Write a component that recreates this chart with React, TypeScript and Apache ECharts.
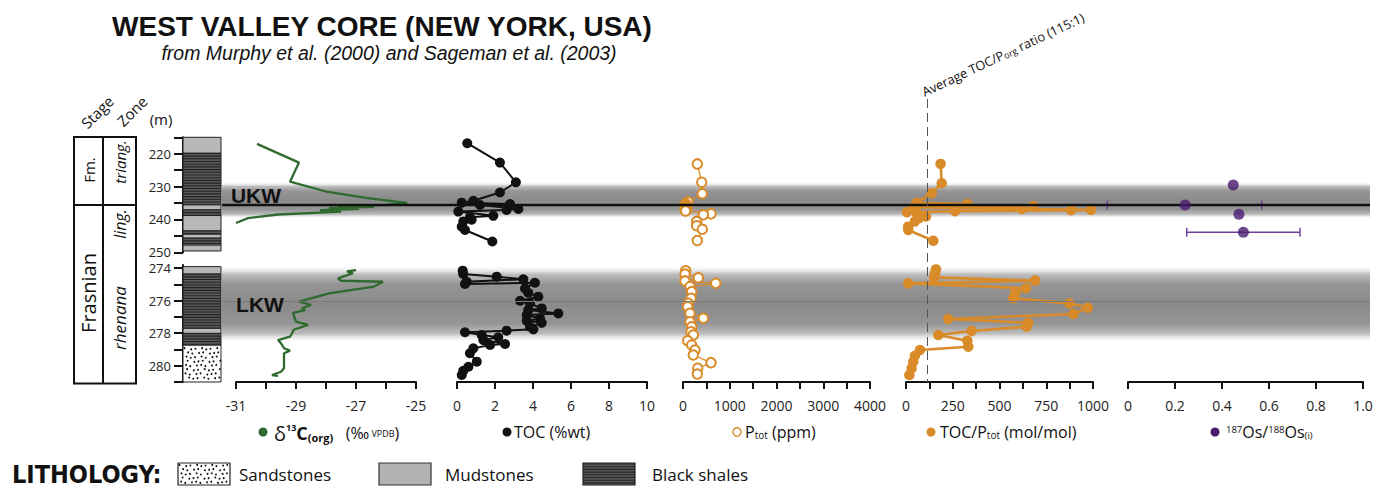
import React, { useEffect, useRef } from 'react';
import * as echarts from 'echarts';

// ---------- DATA ----------
// depth ranges of the two displayed core segments (m)
const depthUpper = [215, 250];
const depthLower = [273.8, 281];
const depthTicksUpper = [215, 220, 225, 230, 235, 240, 245, 250];
const depthLabelsUpper = [220, 230, 240, 250];
const depthTicksLower = [274, 275, 276, 277, 278, 279, 280, 281];
const depthLabelsLower = [274, 276, 278, 280];

// lithology intervals [top, bottom, kind] kind: 0 mudstone, 1 black shale, 2 sandstone
const lithoUpper = [
  [215, 219.6, 0], [219.6, 235.8, 1], [235.8, 236.8, 0], [236.8, 239.1, 1], [239.1, 243.2, 0],
  [243.2, 244.7, 1], [244.7, 245.4, 0], [245.4, 248.2, 1], [248.2, 249.6, 0],
];
const lithoLower = [
  [273.9, 274.3, 0], [274.3, 277.75, 1], [277.75, 277.95, 0], [277.95, 278.8, 1], [278.8, 281, 2],
];

// shaded intervals (UKW, LKW) [top, bottom]
const bandUpper = [[228.6, 239.8]];
const bandLower = [[273.8, 278.6]];
const ffBoundary = 235.6;      // black line
const lkwMidLine = 276.05;     // thin line in LKW
const avgRatio = 115;          // average TOC/Porg ratio

// [depth, value]
const d13cUpper = [
  [217.0, -30.3], [222.7, -28.9], [228.5, -29.2], [231.5, -28.0], [233.5, -26.6], [235.0, -25.3],
  [235.6, -26.0], [235.9, -27.6], [236.2, -26.4], [236.5, -27.9], [236.8, -26.9], [237.2, -28.2],
  [237.6, -27.5], [238.5, -29.6], [239.6, -30.6], [241.1, -31.0],
];
const d13cLower = [
  [274.11, -27.0], [274.2, -27.3], [274.3, -27.1], [274.62, -27.6], [274.77, -27.5], [274.83, -26.1],
  [275.13, -26.4], [275.54, -27.9], [275.85, -28.5], [276.06, -28.9], [276.26, -28.5], [276.47, -28.8],
  [276.57, -28.7], [276.74, -29.1], [277.29, -29.0], [277.49, -28.6], [277.8, -29.1], [277.9, -29.1],
  [278.21, -29.2], [278.42, -29.6], [278.62, -29.5], [278.92, -29.4], [279.07, -29.2], [279.23, -29.4],
  [280.16, -29.4], [280.37, -29.5], [280.57, -29.8], [280.63, -29.6],
];
const tocUpper = [
  [216.8, 0.54], [222.7, 2.26], [228.7, 3.1], [231.8, 2.26], [234.3, 0.86], [234.9, 0.25],
  [235.3, 2.79], [235.6, 1.21], [236.8, 3.23], [237.1, 2.61], [237.6, 0.07], [238.9, 1.91],
  [239.3, 0.68], [240.1, 0.77], [240.6, 0.33], [242.2, 0.25], [243.2, 0.42], [246.7, 1.86],
];
const tocLower = [
  [274.15, 0.3], [274.35, 0.33], [274.52, 2.09], [274.68, 3.49], [274.83, 0.51], [274.97, 0.42],
  [274.89, 4.1], [275.24, 3.58], [275.51, 3.75], [275.75, 4.28], [276.0, 3.32], [276.16, 3.84],
  [276.47, 4.46], [276.57, 3.75], [276.78, 5.33], [276.88, 3.67], [277.09, 4.37], [277.23, 3.67],
  [277.36, 4.46], [277.6, 3.84], [277.76, 4.02], [277.84, 2.61], [277.94, 0.42], [278.11, 1.3],
  [278.25, 2.17], [278.42, 1.39], [278.66, 2.53], [278.72, 1.74], [278.93, 0.86], [279.23, 0.68],
  [279.75, 1.04], [280.06, 0.6], [280.31, 0.33], [280.57, 0.25],
];
const ptotUpper = [
  [223.1, 306], [228.7, 400], [232.2, 413], [234.6, 110], [235.2, 60], [235.6, 40], [235.9, 90],
  [236.2, 50], [236.5, 80], [236.8, 45], [237.1, 75], [237.4, 55], [238.3, 599], [238.6, 435],
  [240.6, 293], [241.9, 293], [243.0, 413], [246.4, 306],
];
const ptotLower = [
  [274.15, 58], [274.35, 43], [274.58, 328], [274.78, 43], [274.93, 700], [275.13, 150],
  [275.44, 186], [275.85, 171], [276.16, 113], [276.37, 100], [276.77, 150], [277.08, 435],
  [277.29, 150], [277.6, 186], [277.91, 171], [278.11, 220], [278.46, 100], [278.72, 186],
  [279.03, 257], [279.34, 220], [279.81, 599], [280.16, 314], [280.51, 306],
];
const ratioUpper = [
  [223.1, 185], [229.0, 191], [232.0, 137], [234.9, 57], [235.3, 328], [235.6, 57], [235.9, 681],
  [236.3, 40], [236.8, 619], [237.1, 989], [237.2, 883], [237.5, 262], [237.8, 5], [238.3, 60],
  [239.1, 107], [239.6, 70], [240.6, 48], [242.2, 12], [243.2, 12], [246.5, 146],
];
const ratioLower = [
  [274.07, 160], [274.31, 155], [274.56, 150], [274.76, 690], [274.93, 12], [275.23, 642],
  [275.54, 583], [275.85, 574], [276.16, 874], [276.43, 972], [276.82, 895], [277.12, 226],
  [277.35, 654], [277.6, 646], [277.86, 351], [278.11, 173], [278.46, 328], [278.83, 333],
  [279.03, 75], [279.38, 48], [279.75, 39], [280.16, 30], [280.57, 18],
];
const osPoints = [[229.5, 0.448], [235.6, 0.243], [238.4, 0.472], [243.9, 0.491]];
// [depth, low, high]
const osErrors = [[235.6, -0.088, 0.569], [243.9, 0.25, 0.732]];

// x-axis ticks / labels per panel
const d13cTicks = [-31, -30, -29, -28, -27, -26, -25];
const d13cLabels = [-31, -29, -27, -25];
const tocTicks = [0, 2, 4, 6, 8, 10];
const ptotTicks = [0, 500, 1000, 1500, 2000, 2500, 3000, 3500, 4000];
const ptotLabels = [0, 1000, 2000, 3000, 4000];
const ratioTicks = [0, 125, 250, 375, 500, 625, 750, 875, 1000];
const ratioLabels = [0, 250, 500, 750, 1000];
const osTicks = [0, 0.2, 0.4, 0.6, 0.8, 1.0];

// ---------- STYLE ----------
const GREEN = '#2f6a2f';
const ORANGE = '#d98b29';
const PURPLE = '#4a1a70';
const PURPLE_BAR = '#6b3f9a';
const FONT = "'Open Sans', 'Noto Sans', sans-serif";
const HELV = "'Liberation Sans', Arial, sans-serif";

const ROW_U = { top: 137.3, height: 115 };
const ROW_L = { top: 265, height: 117 };

const panels = [
  { left: 236, width: 180, min: -31, max: -25, ticks: d13cTicks, labels: d13cLabels },
  { left: 457, width: 190, min: 0, max: 10, ticks: tocTicks, labels: tocTicks },
  { left: 683, width: 187, min: 0, max: 4000, ticks: ptotTicks, labels: ptotLabels },
  { left: 906, width: 187, min: 0, max: 1000, ticks: ratioTicks, labels: ratioLabels },
  { left: 1128, width: 235, min: 0, max: 1, ticks: osTicks, labels: osTicks },
];

function shaleChildren(x: number, y: number, w: number, h: number) {
  const ch: any[] = [{ type: 'rect', shape: { x, y, width: w, height: h }, style: { fill: '#5a5a5a' } }];
  for (let yy = y + 1; yy < y + h - 0.3; yy += 2.7) {
    ch.push({ type: 'line', shape: { x1: x, y1: yy, x2: x + w, y2: yy }, style: { stroke: '#222', lineWidth: 1.1 } });
  }
  return ch;
}
function sandChildren(x: number, y: number, w: number, h: number) {
  const ch: any[] = [{ type: 'rect', shape: { x, y, width: w, height: h }, style: { fill: '#fff' } }];
  let r = 0;
  for (let yy = y + 2.5; yy < y + h - 1.5; yy += 4.2, r++) {
    let c = 0;
    for (let xx = x + 2.5 + (r % 2) * 2.6; xx < x + w - 1.5; xx += 5.2, c++) {
      const jx = (((r * 7 + c * 3) % 5) - 2) * 0.5;
      const jy = (((r * 3 + c * 5) % 3) - 1) * 0.6;
      ch.push({ type: 'circle', shape: { cx: xx + jx, cy: yy + jy, r: 0.95 }, style: { fill: '#111' } });
    }
  }
  return ch;
}

function lithoRender(params: any, api: any) {
  const top = api.value(1), bot = api.value(2), kind = api.value(3);
  const p0 = api.coord([0, top]);
  const p1 = api.coord([1, bot]);
  const x = p0[0], y = p0[1], w = p1[0] - p0[0], h = p1[1] - p0[1];
  let children: any[];
  if (kind === 1) children = shaleChildren(x, y, w, h);
  else if (kind === 2) children = sandChildren(x, y, w, h);
  else children = [{ type: 'rect', shape: { x, y, width: w, height: h }, style: { fill: '#b8b8b8' } }];
  return { type: 'group', children };
}

function bandRender(params: any, api: any) {
  const cs = params.coordSys;
  const yt = api.coord([0, api.value(1)])[1];
  const yb = api.coord([0, api.value(2)])[1];
  return {
    type: 'rect',
    shape: { x: cs.x, y: yt, width: cs.width, height: yb - yt },
    style: {
      fill: {
        type: 'linear', x: 0, y: 0, x2: 0, y2: 1,
        colorStops: [
          { offset: 0, color: 'rgba(255,255,255,0)' },
          { offset: 0.12, color: '#bdbdbd' },
          { offset: 0.25, color: '#959595' },
          { offset: 0.5, color: '#8a8a8a' },
          { offset: 0.75, color: '#959595' },
          { offset: 0.88, color: '#bdbdbd' },
          { offset: 1, color: 'rgba(255,255,255,0)' },
        ],
      },
    },
  };
}

function errRender(params: any, api: any) {
  const d = api.value(0), lo = api.value(1), hi = api.value(2);
  const a = api.coord([lo, d]);
  const b = api.coord([hi, d]);
  const st = { stroke: PURPLE_BAR, lineWidth: 1.4 };
  return {
    type: 'group',
    children: [
      { type: 'line', shape: { x1: a[0], y1: a[1], x2: b[0], y2: b[1] }, style: st },
      { type: 'line', shape: { x1: a[0], y1: a[1] - 4.5, x2: a[0], y2: a[1] + 4.5 }, style: st },
      { type: 'line', shape: { x1: b[0], y1: b[1] - 4.5, x2: b[0], y2: b[1] + 4.5 }, style: st },
    ],
  };
}

function fmtOs(v: number) {
  return v === 0 ? '0' : v.toFixed(1);
}

function buildOption() {
  const grid: any[] = [];
  const xAxis: any[] = [];
  const yAxis: any[] = [];
  const series: any[] = [];

  const addRow = (left: number, width: number | null, row: any, right?: number) => {
    const g: any = { left, top: row.top, height: row.height, containLabel: false };
    if (width != null) g.width = width; else g.right = right;
    grid.push(g);
    return grid.length - 1;
  };

  const hiddenY = (gi: number, rng: number[]) => ({
    gridIndex: gi, type: 'value', inverse: true, min: rng[0], max: rng[1], show: false,
  });

  // 0,1 lithology column with depth axis
  [[ROW_U, depthUpper, depthTicksUpper, depthLabelsUpper, lithoUpper], [ROW_L, depthLower, depthTicksLower, depthLabelsLower, lithoLower]].forEach(
    ([row, rng, ticks, labels, litho]: any) => {
      const gi = addRow(183, 38, row);
      xAxis.push({ gridIndex: gi, type: 'value', min: 0, max: 1, show: false });
      yAxis.push({
        gridIndex: gi, type: 'value', inverse: true, min: rng[0], max: rng[1],
        axisLine: { show: true, lineStyle: { color: '#111', width: 2 } },
        axisTick: { show: true, length: 9, inside: false, customValues: ticks, lineStyle: { color: '#111', width: 2 } },
        axisLabel: { show: true, customValues: labels, color: '#222', fontFamily: FONT, fontSize: 13, lineHeight: 12, margin: 12 },
        splitLine: { show: false },
      });
      series.push({
        type: 'custom', xAxisIndex: gi, yAxisIndex: gi, renderItem: lithoRender, clip: false, silent: true,
        encode: { x: 0, y: [1, 2] },
        data: litho.map((l: number[]) => [0, l[0], l[1], l[2]]),
      });
      // outline
      const top = litho[0][0], bot = litho[litho.length - 1][1];
      series.push({
        type: 'custom', xAxisIndex: gi, yAxisIndex: gi, clip: false, silent: true, z: 3,
        renderItem: (p: any, api: any) => {
          const a = api.coord([0, api.value(1)]);
          const b = api.coord([1, api.value(2)]);
          return { type: 'rect', shape: { x: a[0], y: a[1], width: b[0] - a[0], height: b[1] - a[1] }, style: { fill: 'none', stroke: '#222', lineWidth: 1 } };
        },
        encode: { x: 0, y: [1, 2] },
        data: [[0, top, bot]],
      });
    }
  );

  // 2,3 background rows (bands + lines)
  [[ROW_U, depthUpper, bandUpper], [ROW_L, depthLower, bandLower]].forEach(([row, rng, bands]: any, k) => {
    const gi = addRow(222, null, row, 6);
    xAxis.push({ gridIndex: gi, type: 'value', min: 0, max: 1, show: false });
    yAxis.push(hiddenY(gi, rng));
    series.push({
      type: 'custom', xAxisIndex: gi, yAxisIndex: gi, renderItem: bandRender, silent: true, z: 0,
      encode: { x: 0, y: [1, 2] },
      data: bands.map((b: number[]) => [0, b[0], b[1]]),
      markLine: {
        silent: true, symbol: 'none', label: { show: false },
        lineStyle: k === 0 ? { color: '#111', width: 2.4, type: 'solid' } : { color: '#7a7a7a', width: 1, type: 'solid' },
        data: [{ yAxis: k === 0 ? ffBoundary : lkwMidLine }],
      },
    });
  });

  // panels
  panels.forEach((p, pi) => {
    [ROW_U, ROW_L].forEach((row, ri) => {
      const gi = addRow(p.left, p.width, row);
      const lower = ri === 1;
      xAxis.push({
        gridIndex: gi, type: 'value', min: p.min, max: p.max, position: 'bottom',
        show: lower,
        axisLine: { show: true, onZero: false, lineStyle: { color: '#111', width: 2 } },
        axisTick: { show: true, length: 7, customValues: p.ticks, lineStyle: { color: '#111', width: 2 } },
        axisLabel: {
          show: true, customValues: p.labels, color: '#222', fontFamily: FONT, fontSize: 14, margin: 16,
          formatter: pi === 4 ? fmtOs : (v: number) => String(v),
        },
        splitLine: { show: false },
      });
      yAxis.push(hiddenY(gi, ri === 0 ? depthUpper : depthLower));
    });
  });

  const gIdx = (pi: number, ri: number) => 4 + pi * 2 + ri;
  const toXY = (arr: number[][]) => arr.map((d) => [d[1], d[0]]);

  // δ13C
  [d13cUpper, d13cLower].forEach((arr, ri) => {
    series.push({
      type: 'line', xAxisIndex: gIdx(0, ri), yAxisIndex: gIdx(0, ri), data: toXY(arr),
      showSymbol: false, symbol: 'none', lineStyle: { color: GREEN, width: 2.3 }, z: 4, silent: true,
    });
  });
  // TOC
  [tocUpper, tocLower].forEach((arr, ri) => {
    series.push({
      type: 'line', xAxisIndex: gIdx(1, ri), yAxisIndex: gIdx(1, ri), data: toXY(arr),
      symbol: 'circle', symbolSize: 10, itemStyle: { color: '#111' }, lineStyle: { color: '#111', width: 2 }, z: 4, silent: true,
    });
  });
  // Ptot
  [ptotUpper, ptotLower].forEach((arr, ri) => {
    series.push({
      type: 'line', xAxisIndex: gIdx(2, ri), yAxisIndex: gIdx(2, ri), data: toXY(arr),
      symbol: 'emptyCircle', symbolSize: 9.5,
      itemStyle: { color: ORANGE, borderColor: ORANGE, borderWidth: 1.5 },
      lineStyle: { color: ORANGE, width: 1.3 }, z: 4, silent: true,
    });
  });
  // TOC/P
  [ratioUpper, ratioLower].forEach((arr, ri) => {
    series.push({
      type: 'line', xAxisIndex: gIdx(3, ri), yAxisIndex: gIdx(3, ri), data: toXY(arr),
      symbol: 'circle', symbolSize: 10.5, itemStyle: { color: ORANGE }, lineStyle: { color: ORANGE, width: 2.6 }, z: 4, silent: true,
    });
  });
  // Os
  series.push({
    type: 'custom', xAxisIndex: gIdx(4, 0), yAxisIndex: gIdx(4, 0), renderItem: errRender, clip: false, silent: true, z: 4,
    encode: { x: [1, 2], y: 0 }, data: osErrors,
  });
  series.push({
    type: 'scatter', xAxisIndex: gIdx(4, 0), yAxisIndex: gIdx(4, 0), data: toXY(osPoints),
    symbolSize: 11, itemStyle: { color: PURPLE }, z: 5, silent: true,
  });

  return {
    animation: false,
    backgroundColor: '#fff',
    grid, xAxis, yAxis, series,
  };
}

function legendShale(x: number, y: number, w: number, h: number) {
  const ch: any[] = shaleChildren(x, y, w, h);
  ch.push({ type: 'rect', shape: { x, y, width: w, height: h }, style: { fill: 'none', stroke: '#222', lineWidth: 1.2 } });
  return ch;
}

export default function App() {
  const ref = useRef<HTMLDivElement>(null);
  useEffect(() => {
    const chart = echarts.init(ref.current!, null, { renderer: 'svg', width: 1376, height: 488 });
    chart.setOption(buildOption());

    const xAvg = chart.convertToPixel({ xAxisIndex: 4 + 3 * 2 + 1 }, avgRatio) as number;
    const yFF = chart.convertToPixel({ yAxisIndex: 0 }, ffBoundary) as number;
    const yTop = 137;
    const yBot = 383.5;
    const bx0 = 74, bx1 = 103, bx2 = 136;

    const t = (x: number, y: number, text: string, font: any, extra: any = {}) => ({
      type: 'text', x, y, silent: true, z: 10,
      style: { text, fill: '#111', align: 'center', verticalAlign: 'middle', ...font },
      ...extra,
    });

    const legendY = 432;
    const subStyle = { fontSize: 10, fontFamily: FONT, fill: '#111', verticalAlign: 'bottom', padding: [0, 0, 0, 0] };

    const graphic: any[] = [
      // title
      t(382, 26, 'WEST VALLEY CORE (NEW YORK, USA)', { fontFamily: HELV, fontWeight: 'bold', fontSize: 28 }),
      t(389, 53, 'from Murphy et al. (2000) and Sageman et al. (2003)', { fontFamily: HELV, fontStyle: 'italic', fontSize: 19.5 }),
      // stage/zone box
      { type: 'rect', shape: { x: bx0, y: yTop, width: bx2 - bx0, height: yBot - yTop }, style: { fill: 'none', stroke: '#111', lineWidth: 2 }, silent: true },
      { type: 'line', shape: { x1: bx1, y1: yTop, x2: bx1, y2: yBot }, style: { stroke: '#111', lineWidth: 2 }, silent: true },
      { type: 'line', shape: { x1: bx0, y1: yFF, x2: bx2, y2: yFF }, style: { stroke: '#111', lineWidth: 2 }, silent: true },
      t(88.5, 170, 'Fm.', { fontFamily: FONT, fontSize: 15 }, { rotation: Math.PI / 2 }),
      t(119.5, 162, 'triang.', { fontFamily: FONT, fontSize: 15, fontStyle: 'italic' }, { rotation: Math.PI / 2 }),
      t(88.5, 293, 'Frasnian', { fontFamily: FONT, fontSize: 20 }, { rotation: Math.PI / 2 }),
      t(119.5, 224, 'ling.', { fontFamily: FONT, fontSize: 16, fontStyle: 'italic' }, { rotation: Math.PI / 2 }),
      t(119.5, 318, 'rhenana', { fontFamily: FONT, fontSize: 17, fontStyle: 'italic' }, { rotation: Math.PI / 2 }),
      t(97, 112, 'Stage', { fontFamily: FONT, fontSize: 15 }, { rotation: Math.PI / 4 }),
      t(132, 111, 'Zone', { fontFamily: FONT, fontSize: 15 }, { rotation: Math.PI / 4 }),
      t(161, 119, '(m)', { fontFamily: FONT, fontSize: 15 }),
      // UKW / LKW
      t(256, 195, 'UKW', { fontFamily: HELV, fontWeight: 'bold', fontSize: 21 }),
      t(260, 304, 'LKW', { fontFamily: HELV, fontWeight: 'bold', fontSize: 21 }),
      // average ratio dashed line
      { type: 'line', shape: { x1: xAvg, y1: 99, x2: xAvg, y2: 382 }, style: { stroke: '#555', lineWidth: 1, lineDash: [9, 5] }, silent: true, z: 6 },
      {
        type: 'text', x: xAvg - 2, y: 98, rotation: 0.44, silent: true, z: 10,
        style: {
          text: '{n|Average TOC/P}{s|org}{n| ratio (115:1)}', align: 'left', verticalAlign: 'bottom',
          rich: { n: { fontFamily: FONT, fontSize: 12.8, fill: '#111' }, s: { fontFamily: FONT, fontSize: 9, fill: '#111', verticalAlign: 'bottom' } },
        },
      },
      // bottom legends
      { type: 'circle', shape: { cx: 263, cy: legendY, r: 4.5 }, style: { fill: GREEN }, silent: true },
      {
        type: 'text', x: 274, y: legendY + 1, silent: true,
        style: {
          text: '{d|δ}{sup|13}{c|C}{sub|(org)}{n|   (‰}{sm| VPDB}{n|)}', align: 'left', verticalAlign: 'middle',
          rich: {
            d: { fontFamily: FONT, fontSize: 20, fill: '#111' },
            sup: { fontFamily: FONT, fontSize: 9, fill: '#111', verticalAlign: 'top', fontWeight: 'bold' },
            c: { fontFamily: FONT, fontSize: 18, fontWeight: 'bold', fill: '#111' },
            sub: { fontFamily: FONT, fontSize: 11, fontWeight: 'bold', fill: '#111', verticalAlign: 'bottom' },
            n: { fontFamily: FONT, fontSize: 16, fill: '#111' },
            sm: { fontFamily: FONT, fontSize: 9, fill: '#111' },
          },
        },
      },
      { type: 'circle', shape: { cx: 507, cy: legendY, r: 4.5 }, style: { fill: '#111' }, silent: true },
      { type: 'text', x: 514, y: legendY, silent: true, style: { text: 'TOC (%wt)', fontFamily: FONT, fontSize: 16, fill: '#111', align: 'left', verticalAlign: 'middle' } },
      { type: 'circle', shape: { cx: 737, cy: legendY, r: 4.2 }, style: { fill: '#fff', stroke: ORANGE, lineWidth: 1.4 }, silent: true },
      {
        type: 'text', x: 745, y: legendY, silent: true,
        style: {
          text: '{n|P}{s|tot}{n| (ppm)}', align: 'left', verticalAlign: 'middle',
          rich: { n: { fontFamily: FONT, fontSize: 16, fill: '#111' }, s: { ...subStyle } },
        },
      },
      { type: 'circle', shape: { cx: 931, cy: legendY, r: 4.5 }, style: { fill: ORANGE }, silent: true },
      {
        type: 'text', x: 940, y: legendY, silent: true,
        style: {
          text: '{n|TOC/P}{s|tot}{n| (mol/mol)}', align: 'left', verticalAlign: 'middle',
          rich: { n: { fontFamily: FONT, fontSize: 16, fill: '#111' }, s: { ...subStyle } },
        },
      },
      { type: 'circle', shape: { cx: 1215, cy: legendY, r: 4.5 }, style: { fill: PURPLE }, silent: true },
      {
        type: 'text', x: 1226, y: legendY, silent: true,
        style: {
          text: '{u|187}{n|Os/}{u|188}{n|Os}{s|(i)}', align: 'left', verticalAlign: 'middle',
          rich: {
            n: { fontFamily: FONT, fontSize: 16, fill: '#111' },
            u: { fontFamily: FONT, fontSize: 9.5, fill: '#111', verticalAlign: 'top' },
            s: { ...subStyle, fontSize: 9.5 },
          },
        },
      },
      // lithology legend
      { type: 'text', x: 12, y: 474, silent: true, style: { text: 'LITHOLOGY:', fontFamily: "'Liberation Sans Narrow', 'DejaVu Sans Condensed', 'Liberation Sans', sans-serif", fontWeight: 'bold', fontSize: 25, fill: '#111', align: 'left', verticalAlign: 'middle' } },
      { type: 'group', silent: true, children: sandChildren(178, 463, 52, 22).concat([{ type: 'rect', shape: { x: 178, y: 463, width: 52, height: 22 }, style: { fill: 'none', stroke: '#222', lineWidth: 1.2 } }]) },
      { type: 'text', x: 239, y: 474, silent: true, style: { text: 'Sandstones', fontFamily: FONT, fontSize: 17, fill: '#111', align: 'left', verticalAlign: 'middle' } },
      { type: 'rect', shape: { x: 379, y: 463, width: 52, height: 22 }, style: { fill: '#b3b3b3', stroke: '#333', lineWidth: 1.2 }, silent: true },
      { type: 'text', x: 445, y: 474, silent: true, style: { text: 'Mudstones', fontFamily: FONT, fontSize: 17, fill: '#111', align: 'left', verticalAlign: 'middle' } },
      { type: 'group', silent: true, children: legendShale(583, 463, 52, 22) },
      { type: 'text', x: 652, y: 474, silent: true, style: { text: 'Black shales', fontFamily: FONT, fontSize: 17, fill: '#111', align: 'left', verticalAlign: 'middle' } },
    ];

    chart.setOption({ graphic });
    return () => chart.dispose();
  }, []);
  return <div ref={ref} style={{ position: 'fixed', left: 0, top: 0, width: 1376, height: 488, background: '#fff' }} />;
}
